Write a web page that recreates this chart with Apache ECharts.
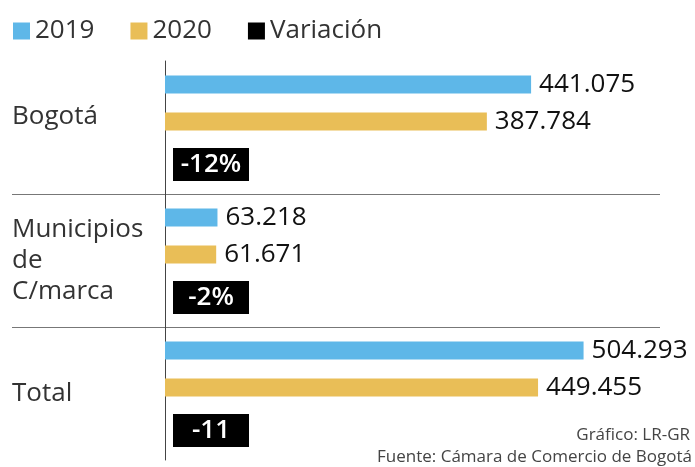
<!DOCTYPE html>
<html>
<head>
<meta charset="utf-8">
<style>
  html, body { margin: 0; padding: 0; background: #fff; }
  #bar { width: 695px; height: 467px; }
</style>
<script src="https://cdn.jsdelivr.net/npm/echarts@6/dist/echarts.min.js"></script>
</head>
<body>
<div id="bar"></div>
<script>
const categories = ["Bogotá", "Municipios\nde\nC/marca", "Total"];
const values2019 = [441.075, 63.218, 504.293];
const values2020 = [387.784, 61.671, 449.455];
const variacion = ["-12%", "-2%", "-11"];
const variacionBase = [0, 0, 0];

(function () {
  let dom = document.querySelector("#bar");
  let myChart = echarts.init(dom);
  const font = "'Open Sans', 'DejaVu Sans', sans-serif";
  const fmtNum = (v) => v.toFixed(3);

  let options = {
    animation: false,
    textStyle: { fontFamily: font },
    legend: {
      left: 13,
      top: 18,
      padding: 0,
      itemWidth: 17,
      itemHeight: 17,
      itemGap: 36,
      icon: "rect",
      textStyle: { fontSize: 26, color: "#333", fontFamily: font, lineHeight: 17 },
      data: ["2019", "2020", "Variación"]
    },
    grid: { left: 165, right: 32, top: 61, bottom: 7 },
    xAxis: {
      type: "value",
      min: 0,
      max: 600,
      show: false
    },
    yAxis: {
      type: "category",
      inverse: true,
      data: categories,
      axisTick: { show: false },
      axisLine: { lineStyle: { color: "#444", width: 1 } },
      axisLabel: {
        align: "left",
        margin: 153,
        formatter: function (v, i) {
          return i === 0 ? "{up|" + v + "}" : "{n|" + v.split("\n").join("}\n{n|") + "}";
        },
        rich: {
          up: { fontSize: 26, color: "#333", fontFamily: font, padding: [0, 0, 22, 0] },
          n: { fontSize: 26, color: "#333", fontFamily: font, lineHeight: 31 }
        }
      }
    },
    series: [
      {
        name: "2019",
        type: "bar",
        data: values2019,
        barWidth: 18,
        barGap: "105%",
        itemStyle: { color: "#5eb7e8" },
        label: {
          show: true,
          position: "right",
          distance: 8,
          color: "#111",
          fontSize: 26,
          fontFamily: font,
          formatter: (p) => fmtNum(p.value)
        }
      },
      {
        name: "2020",
        type: "bar",
        data: values2020,
        barWidth: 18,
        barGap: "105%",
        itemStyle: { color: "#e9be57" },
        label: {
          show: true,
          position: "right",
          distance: 8,
          color: "#111",
          fontSize: 26,
          fontFamily: font,
          formatter: (p) => fmtNum(p.value)
        }
      },
      {
        name: "Variación",
        type: "bar",
        data: variacionBase,
        barWidth: 30,
        barGap: "105%",
        itemStyle: { color: "#000" },
        label: {
          show: true,
          position: "right",
          distance: 8,
          formatter: (p) => "{box|" + variacion[p.dataIndex] + "}",
          rich: {
            box: {
              backgroundColor: "#000",
              color: "#fff",
              fontSize: 26,
              fontWeight: 600,
              fontFamily: font,
              width: 64,
              align: "center",
              lineHeight: 26,
              padding: [4, 6, 3, 6]
            }
          }
        }
      }
    ]
  };
  myChart.setOption(options);

  // separadores entre categorias y notas al pie
  let centers = categories.map((c) => myChart.convertToPixel({ yAxisIndex: 0 }, c));
  let graphics = [];
  for (let i = 0; i < centers.length - 1; i++) {
    let y = Math.round((centers[i] + centers[i + 1]) / 2) + 0.5;
    graphics.push({
      type: "line",
      shape: { x1: 12, y1: y, x2: 660, y2: y },
      style: { stroke: "#777", lineWidth: 1 }
    });
  }
  graphics.push({
    type: "text",
    right: 5,
    top: 427,
    style: { text: "Gráfico: LR-GR", fill: "#444", fontSize: 17, fontFamily: font }
  });
  graphics.push({
    type: "text",
    right: 3,
    top: 449,
    style: { text: "Fuente: Cámara de Comercio de Bogotá", fill: "#444", fontSize: 17, fontFamily: font }
  });
  myChart.setOption({ graphic: graphics });

  window.addEventListener("resize", () => {
    myChart.resize();
  });
})();
</script>
</body>
</html>
